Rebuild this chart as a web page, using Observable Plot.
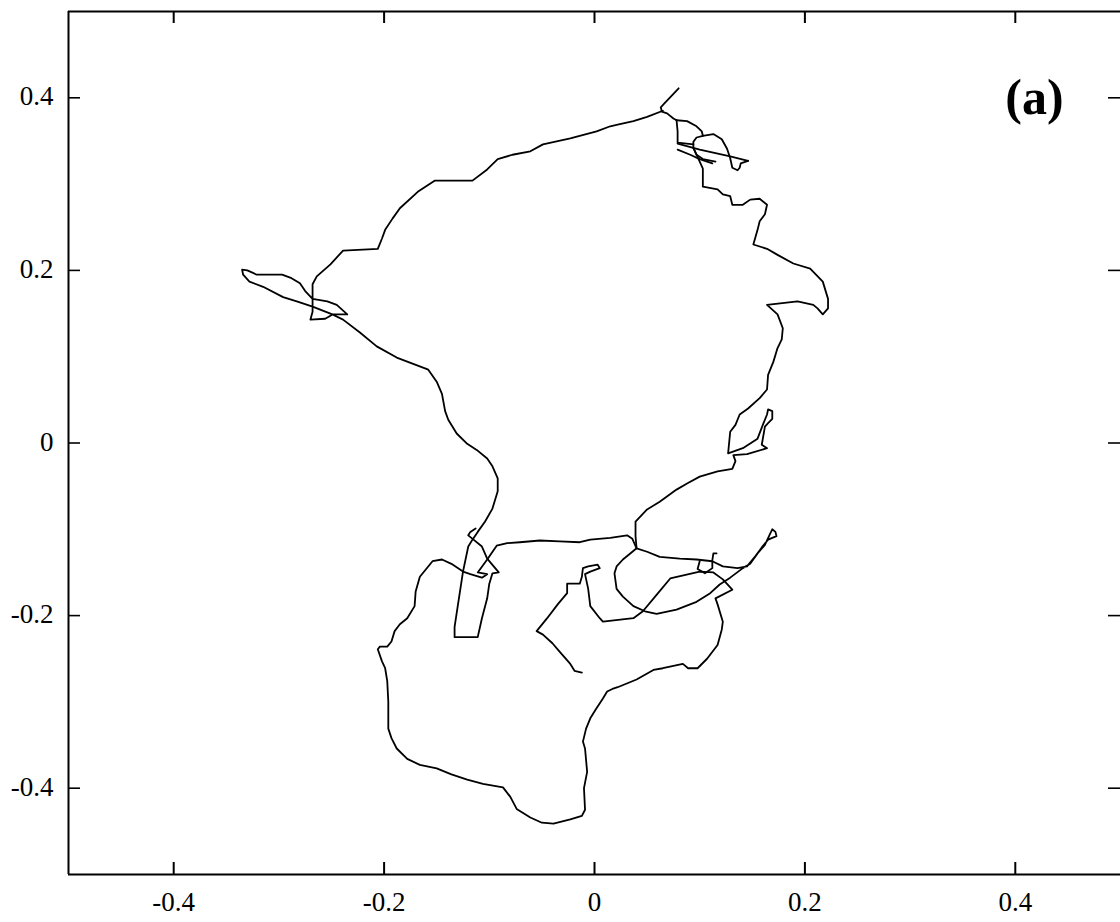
<!DOCTYPE html>
<html>
<head>
<meta charset="utf-8">
<script src="https://cdn.jsdelivr.net/npm/d3@7"></script>
<script src="https://cdn.jsdelivr.net/npm/@observablehq/plot@0.6"></script>
<style>
  html, body { margin: 0; padding: 0; background: #fff; }
</style>
</head>
<body>
<div id="chart"></div>
<script>
const xDomain = [-0.5, 0.5];
const yDomain = [-0.5, 0.5];
const xTicks = [-0.4, -0.2, 0, 0.2, 0.4];
const yTicks = [-0.4, -0.2, 0, 0.2, 0.4];
const panelLabel = ["(a)"];

// trajectory pieces, [x, y]
const segTopEnd = [[0.080,0.411],[0.073,0.402],[0.066,0.393],[0.063,0.389],[0.064,0.384],[0.069,0.382],[0.075,0.376],[0.078,0.374]];

const segWest = [[0.065,0.385],[0.050,0.378],[0.037,0.373],[0.022,0.369],[0.015,0.367],[0.002,0.361],[-0.023,0.353],[-0.049,0.346],[-0.061,0.338],[-0.078,0.334],[-0.092,0.329],[-0.102,0.317],[-0.116,0.304],[-0.152,0.304],[-0.168,0.291],[-0.185,0.272],[-0.192,0.260],[-0.199,0.247],[-0.202,0.237],[-0.206,0.225],[-0.239,0.223],[-0.251,0.207],[-0.264,0.193],[-0.268,0.184],[-0.268,0.167],[-0.268,0.152],[-0.270,0.143],[-0.256,0.144],[-0.249,0.149],[-0.235,0.149],[-0.245,0.160],[-0.254,0.164],[-0.268,0.167],[-0.275,0.176],[-0.280,0.185],[-0.288,0.191],[-0.297,0.195],[-0.321,0.195],[-0.330,0.200],[-0.335,0.201],[-0.334,0.195],[-0.328,0.187],[-0.315,0.181],[-0.296,0.169],[-0.283,0.164],[-0.268,0.158],[-0.251,0.150],[-0.239,0.143],[-0.223,0.128],[-0.207,0.112],[-0.188,0.099],[-0.173,0.092],[-0.158,0.085],[-0.150,0.071],[-0.145,0.057],[-0.142,0.037],[-0.139,0.027],[-0.131,0.011],[-0.121,-0.001],[-0.112,-0.008],[-0.102,-0.018],[-0.097,-0.027],[-0.092,-0.041],[-0.092,-0.056],[-0.097,-0.076],[-0.104,-0.091],[-0.111,-0.103],[-0.116,-0.112],[-0.120,-0.120],[-0.125,-0.149],[-0.130,-0.189],[-0.133,-0.213],[-0.133,-0.225],[-0.123,-0.225],[-0.111,-0.225],[-0.107,-0.203],[-0.102,-0.180],[-0.100,-0.163],[-0.097,-0.151],[-0.091,-0.150],[-0.102,-0.134],[-0.107,-0.120],[-0.115,-0.112],[-0.120,-0.107],[-0.118,-0.103],[-0.113,-0.099]];

const segBridge = [[-0.125,-0.149],[-0.118,-0.152],[-0.107,-0.156],[-0.102,-0.152],[-0.111,-0.150],[-0.102,-0.135],[-0.093,-0.119],[-0.083,-0.116],[-0.071,-0.115],[-0.052,-0.113],[-0.033,-0.114],[-0.014,-0.115],[-0.004,-0.112],[0.015,-0.110],[0.031,-0.107],[0.036,-0.111],[0.040,-0.122]];

const segSouth = [[-0.125,-0.149],[-0.136,-0.140],[-0.145,-0.135],[-0.154,-0.137],[-0.166,-0.155],[-0.170,-0.172],[-0.171,-0.189],[-0.178,-0.203],[-0.185,-0.210],[-0.190,-0.218],[-0.193,-0.230],[-0.197,-0.236],[-0.204,-0.236],[-0.206,-0.239],[-0.202,-0.253],[-0.199,-0.261],[-0.197,-0.276],[-0.196,-0.300],[-0.196,-0.331],[-0.193,-0.342],[-0.188,-0.354],[-0.178,-0.366],[-0.166,-0.373],[-0.150,-0.377],[-0.136,-0.384],[-0.121,-0.390],[-0.106,-0.395],[-0.087,-0.399],[-0.080,-0.410],[-0.074,-0.424],[-0.061,-0.434],[-0.050,-0.440],[-0.039,-0.441],[-0.023,-0.436],[-0.012,-0.432],[-0.009,-0.425],[-0.010,-0.400],[-0.007,-0.381],[-0.009,-0.354],[-0.011,-0.346],[-0.008,-0.331],[-0.004,-0.319],[0.001,-0.309],[0.008,-0.296],[0.012,-0.288],[0.017,-0.285],[0.022,-0.283],[0.040,-0.274],[0.056,-0.263],[0.065,-0.261],[0.084,-0.256],[0.089,-0.261],[0.098,-0.261],[0.107,-0.250],[0.117,-0.234],[0.121,-0.216],[0.122,-0.207],[0.117,-0.187],[0.115,-0.180],[0.131,-0.170],[0.122,-0.158],[0.113,-0.150],[0.100,-0.149],[0.072,-0.157],[0.059,-0.176],[0.046,-0.195],[0.037,-0.203],[0.008,-0.207],[0.005,-0.203],[-0.004,-0.189],[-0.006,-0.169],[-0.009,-0.152],[-0.004,-0.149],[0.005,-0.145],[0.003,-0.141],[-0.006,-0.143],[-0.011,-0.145],[-0.012,-0.155],[-0.014,-0.163],[-0.026,-0.163],[-0.026,-0.174],[-0.035,-0.187],[-0.045,-0.203],[-0.055,-0.218],[-0.049,-0.222],[-0.040,-0.232],[-0.033,-0.242],[-0.023,-0.256],[-0.019,-0.264],[-0.012,-0.266]];

const segLoop = [[0.040,-0.122],[0.034,-0.128],[0.027,-0.135],[0.021,-0.143],[0.019,-0.151],[0.020,-0.160],[0.021,-0.169],[0.027,-0.178],[0.037,-0.189],[0.048,-0.195],[0.059,-0.198],[0.078,-0.193],[0.097,-0.184],[0.110,-0.174],[0.119,-0.164],[0.129,-0.156],[0.141,-0.145],[0.148,-0.140],[0.155,-0.128],[0.162,-0.118],[0.167,-0.105],[0.169,-0.100],[0.172,-0.103],[0.173,-0.108],[0.165,-0.112],[0.159,-0.121],[0.153,-0.131],[0.145,-0.143],[0.136,-0.145],[0.122,-0.143],[0.112,-0.137],[0.097,-0.135],[0.081,-0.134],[0.062,-0.132],[0.050,-0.126],[0.040,-0.122]];

const segCurl = [[0.100,-0.137],[0.098,-0.146],[0.105,-0.151],[0.112,-0.145],[0.112,-0.136],[0.113,-0.128],[0.116,-0.128]];

const segEast = [[0.094,0.342],[0.100,0.326],[0.103,0.318],[0.103,0.297],[0.117,0.294],[0.122,0.288],[0.129,0.286],[0.131,0.276],[0.141,0.276],[0.148,0.282],[0.157,0.283],[0.164,0.276],[0.162,0.265],[0.157,0.257],[0.155,0.247],[0.151,0.230],[0.164,0.225],[0.174,0.218],[0.189,0.208],[0.205,0.202],[0.217,0.187],[0.222,0.167],[0.222,0.156],[0.217,0.149],[0.212,0.156],[0.208,0.160],[0.193,0.164],[0.164,0.160],[0.174,0.149],[0.179,0.133],[0.178,0.120],[0.174,0.110],[0.170,0.094],[0.165,0.079],[0.164,0.062],[0.157,0.052],[0.146,0.040],[0.138,0.033],[0.134,0.021],[0.129,0.013],[0.127,-0.012],[0.141,-0.006],[0.155,0.005],[0.160,0.021],[0.164,0.033],[0.165,0.039],[0.169,0.037],[0.169,0.028],[0.165,0.023],[0.162,0.019],[0.159,-0.002],[0.164,-0.006],[0.145,-0.013],[0.132,-0.014],[0.134,-0.021],[0.131,-0.030],[0.117,-0.033],[0.100,-0.039],[0.088,-0.047],[0.078,-0.054],[0.062,-0.068],[0.050,-0.077],[0.039,-0.091],[0.039,-0.108],[0.040,-0.122]];

const segKnot1 = [[0.078,0.374],[0.079,0.361],[0.079,0.348],[0.094,0.346]];
const segKnot2 = [[0.079,0.347],[0.100,0.340],[0.129,0.332],[0.146,0.327]];
const segKnot3 = [[0.078,0.374],[0.088,0.373],[0.097,0.367],[0.102,0.361],[0.103,0.356],[0.113,0.358],[0.121,0.352],[0.126,0.341],[0.129,0.330],[0.131,0.319],[0.136,0.316],[0.138,0.319],[0.139,0.324],[0.146,0.327]];
const segKnot4 = [[0.103,0.356],[0.097,0.354],[0.094,0.349],[0.094,0.342],[0.097,0.334],[0.103,0.329],[0.115,0.326]];
const segKnot5 = [[0.079,0.340],[0.091,0.334],[0.100,0.329],[0.112,0.324]];

const segments = [segTopEnd, segWest, segBridge, segSouth, segLoop, segCurl, segEast, segKnot1, segKnot2, segKnot3, segKnot4, segKnot5];
const points = segments.flatMap((s, i) => s.map(([x, y]) => ({x, y, z: i})));

const W = 1120, H = 922;
const mL = 68, mR = 0, mT = 11, mB = 48;
const fw = W - mL - mR, fh = H - mT - mB;
const tickLen = 12;
const font = "'Liberation Serif', 'Times New Roman', serif";

const chart = Plot.plot({
  width: W,
  height: H,
  marginLeft: mL,
  marginRight: mR,
  marginTop: mT,
  marginBottom: mB,
  style: {fontFamily: font, fontSize: "27px", background: "#fff", color: "#000"},
  x: {domain: xDomain, axis: null},
  y: {domain: yDomain, axis: null},
  marks: [
    Plot.ruleX([xDomain[0]], {stroke: "#000", strokeWidth: 2}),
    Plot.ruleY(yDomain, {stroke: "#000", strokeWidth: 2}),
    Plot.tickX(xTicks, {x: d => d, stroke: "#000", strokeWidth: 2, insetBottom: fh - tickLen}),
    Plot.tickX(xTicks, {x: d => d, stroke: "#000", strokeWidth: 2, insetTop: fh - tickLen}),
    Plot.tickY(yTicks, {y: d => d, stroke: "#000", strokeWidth: 1.6, insetRight: fw - tickLen}),
    Plot.tickY(yTicks, {y: d => d, stroke: "#000", strokeWidth: 1.6, insetLeft: fw - tickLen}),
    Plot.axisX({ticks: xTicks, anchor: "bottom", tickSize: 0, tickPadding: 17, tickFormat: d => String(d), label: null, fontSize: 27, fill: "#000"}),
    Plot.axisY({ticks: yTicks, anchor: "left", tickSize: 0, tickPadding: 15, tickFormat: d => String(d), label: null, fontSize: 27, fill: "#000", dy: -1}),
    Plot.line(points, {x: "x", y: "y", z: "z", stroke: "#000", strokeWidth: 1.8, strokeLinejoin: "round", strokeLinecap: "round"}),
    Plot.text(panelLabel, {frameAnchor: "top-right", dx: -86, dy: 86, textAnchor: "middle", lineAnchor: "middle", fontSize: 50, fontWeight: "bold", fill: "#000"})
  ]
});
document.getElementById("chart").appendChild(chart);
</script>
</body>
</html>
